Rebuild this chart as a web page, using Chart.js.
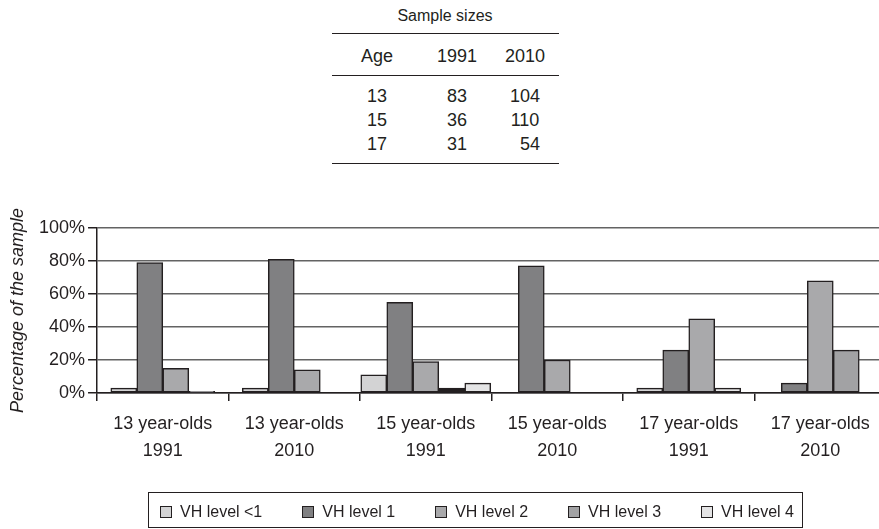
<!DOCTYPE html>
<html>
<head>
<meta charset="utf-8">
<script src="https://cdn.jsdelivr.net/npm/chart.js@4.4.1/dist/chart.umd.min.js"></script>
<style>
  html, body { margin: 0; padding: 0; width: 879px; height: 529px; overflow: hidden; background: #fff; }
  body { position: relative; font-family: "Liberation Sans", Arial, sans-serif; color: #231f20; }
  #chart { position: absolute; left: 0; top: 0; }
  .cell { position: absolute; width: 80px; text-align: center; white-space: nowrap; font-size: 18px; line-height: 18px; }
  .rule { position: absolute; left: 332px; width: 227px; height: 1px; background: #231f20; }
  #caption { position: absolute; left: 395px; width: 100px; top: 8px; text-align: center; font-size: 16px; line-height: 16px; }
  #legend { position: absolute; left: 148px; top: 492px; width: 655px; height: 36px; border: 1px solid #231f20; box-sizing: border-box; }
  #legend .row { position: absolute; left: 11px; top: 11px; height: 16px; display: flex; align-items: center; gap: 40px; }
  #legend .item { display: flex; align-items: center; font-size: 16px; line-height: 16px; white-space: nowrap; }
  #legend .sw { width: 12px; height: 12px; box-sizing: border-box; border: 1px solid #231f20; margin-right: 8px; }
</style>
</head>
<body>
<div id="caption">Sample sizes</div>
<div id="table"></div>
<canvas id="chart" width="900" height="529"></canvas>
<div id="legend"><div class="row"></div></div>

<script>
// sample size table
const tableHead = ['Age', '1991', '2010'];
const ages = ['13', '15', '17'];
const n1991 = ['83', '36', '31'];
const n2010 = ['104', '110', '\u200754'];

// chart data
const categories = [
    ['13 year-olds', '1991'], ['13 year-olds', '2010'],
    ['15 year-olds', '1991'], ['15 year-olds', '2010'],
    ['17 year-olds', '1991'], ['17 year-olds', '2010']
];
const seriesNames = ['VH level <1', 'VH level 1', 'VH level 2', 'VH level 3', 'VH level 4'];
const vhBelow1 = [3, 3, 11, 0, 3, 0];
const vh1 = [79, 81, 55, 77, 26, 6];
const vh2 = [15, 14, 19, 20, 45, 68];
const vh3 = [1, 0, 3, 0, null, 26];
const vh4 = [null, null, 6, 0, 3, 0];
const yTicks = [0, 20, 40, 60, 80, 100];

const seriesValues = [vhBelow1, vh1, vh2, vh3, vh4];
const seriesColors = ['#d3d3d4', '#808082', '#a9a9ab', '#a2a2a4', '#e4e4e5'];
const ink = '#231f20';

// build the table
const colX = [377, 457, 525];
const table = document.getElementById('table');
function addCell(text, cx, baseline) {
    const d = document.createElement('div');
    d.className = 'cell';
    d.textContent = text;
    d.style.left = (cx - 40) + 'px';
    d.style.top = (baseline - 15.2) + 'px';
    table.appendChild(d);
}
[33, 75, 163].forEach(y => {
    const r = document.createElement('div');
    r.className = 'rule';
    r.style.top = y + 'px';
    table.appendChild(r);
});
tableHead.forEach((h, i) => addCell(h, colX[i], 61.7));
ages.forEach((a, r) => {
    const base = 101.7 + r * 24;
    addCell(a, colX[0], base);
    addCell(n1991[r], colX[1], base);
    addCell(n2010[r], colX[2], base);
});

Chart.defaults.font.family = '"Liberation Sans", Arial, sans-serif';
Chart.defaults.color = ink;

const ctx = document.getElementById('chart').getContext('2d');
const chart = new Chart(ctx, {
    type: 'bar',
    data: {
        labels: categories,
        datasets: seriesNames.map((name, i) => ({
            label: name,
            data: seriesValues[i],
            // the 15 year-olds 1991 level 3 bar is printed black in the source
            backgroundColor: i === 3 ? categories.map((c, k) => k === 2 ? ink : seriesColors[i]) : seriesColors[i],
            borderColor: ink,
            borderWidth: 1.5,
            borderSkipped: false,
            barThickness: 26,
            skipNull: true
        }))
    },
    options: {
        responsive: false,
        animation: false,
        layout: { padding: { left: 0, top: 228, right: 14, bottom: 55 } },
        plugins: {
            legend: { display: false },
            tooltip: { enabled: false }
        },
        scales: {
            x: {
                grid: { drawOnChartArea: false, offset: true, tickLength: 8, color: ink, lineWidth: 1.5 },
                border: { color: ink, width: 1.5 },
                ticks: {
                    color: ink,
                    font: { size: 18, lineHeight: 1.483 },
                    padding: 9.8,
                    maxRotation: 0,
                    autoSkip: false
                }
            },
            y: {
                min: 0,
                max: 100,
                afterBuildTicks: axis => { axis.ticks = yTicks.map(v => ({ value: v })); },
                ticks: { color: ink, font: { size: 18 }, padding: 3, callback: v => v + '%' },
                grid: { color: '#636363', lineWidth: 1.5, tickLength: 9, tickColor: ink },
                border: { color: ink, width: 1.5 },
                title: {
                    display: true,
                    text: 'Percentage of the sample',
                    color: ink,
                    font: { size: 18, style: 'italic', lineHeight: 1.2 },
                    padding: { top: 7.2, bottom: 7.2 }
                }
            }
        }
    }
});

// legend box below the chart
const row = document.querySelector('#legend .row');
chart.data.datasets.forEach((ds, i) => {
    const item = document.createElement('div');
    item.className = 'item';
    const sw = document.createElement('span');
    sw.className = 'sw';
    sw.style.background = seriesColors[i];
    item.appendChild(sw);
    item.appendChild(document.createTextNode(ds.label));
    row.appendChild(item);
});
</script>
</body>
</html>
